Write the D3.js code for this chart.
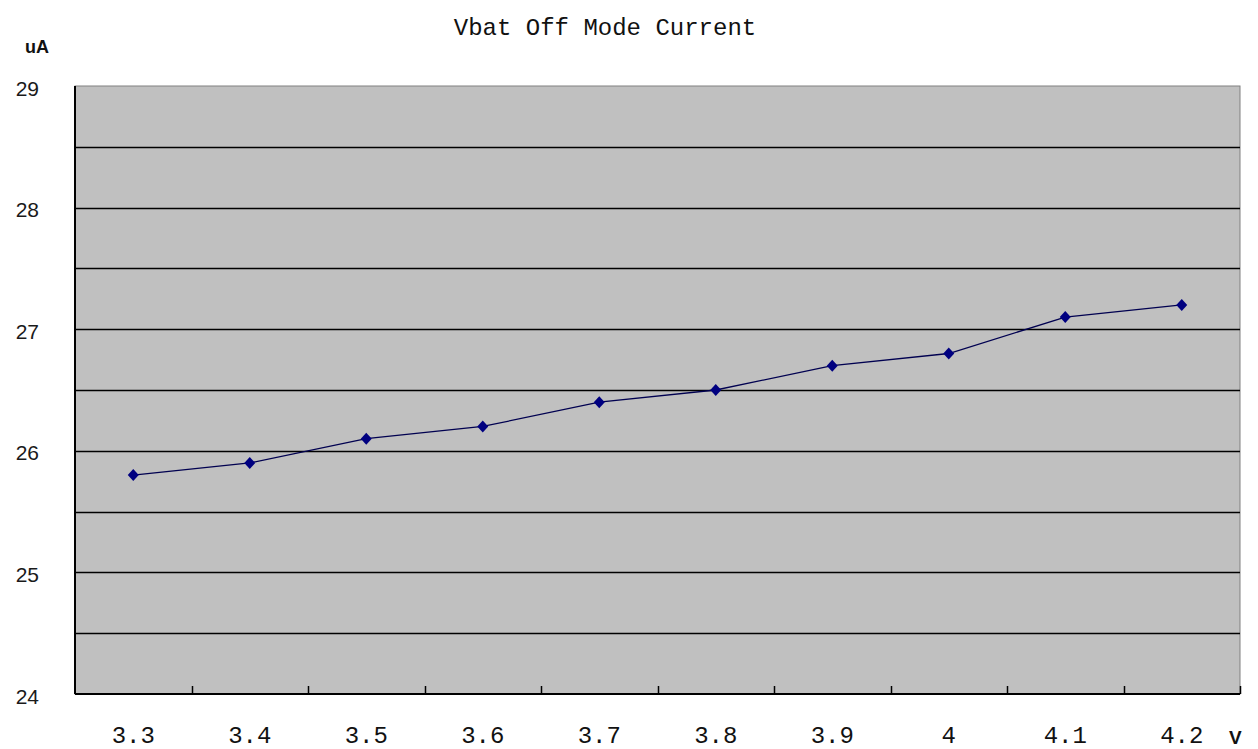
<!DOCTYPE html>
<html><head><meta charset="utf-8">
<script src="https://cdn.jsdelivr.net/npm/d3@7"></script>
<style>body{margin:0;background:#fff}svg{display:block}</style>
</head><body>
<svg id="c" width="1258" height="749"></svg>
<script>
const categories = ["3.3","3.4","3.5","3.6","3.7","3.8","3.9","4","4.1","4.2"];
const values = [25.8,25.9,26.1,26.2,26.4,26.5,26.7,26.8,27.1,27.2];
const yTicks = [24,25,26,27,28,29];
const yGrid = [24.5,25,25.5,26,26.5,27,27.5,28,28.5];
const title = "Vbat Off Mode Current";

const svg = d3.select("#c");
const L = 75, R = 1240, T = 86, B = 694;
const x = d3.scaleBand().domain(categories).range([L, R]).padding(0);
const y = d3.scaleLinear().domain([24, 29]).range([B, T]);

svg.append("rect").attr("x", L).attr("y", T).attr("width", R - L).attr("height", B - T)
  .attr("fill", "#c0c0c0").attr("stroke", "#808080").attr("stroke-width", 1);

svg.append("g").selectAll("line").data(yGrid).join("line")
  .attr("x1", L).attr("x2", R).attr("y1", d => Math.round(y(d)) + 0.5).attr("y2", d => Math.round(y(d)) + 0.5)
  .attr("stroke", "#000").attr("stroke-width", 1.6);

// axes lines
svg.append("line").attr("x1", L).attr("x2", L).attr("y1", T).attr("y2", B).attr("stroke", "#000").attr("stroke-width", 2);
svg.append("line").attr("x1", L).attr("x2", R).attr("y1", B).attr("y2", B).attr("stroke", "#000").attr("stroke-width", 2);

// x ticks between categories (inside)
const tickPos = categories.slice(1).map(c => x(c)).concat([R]);
svg.append("g").selectAll("line").data(tickPos).join("line")
  .attr("x1", d => Math.round(d) + 0.5).attr("x2", d => Math.round(d) + 0.5)
  .attr("y1", B - 8).attr("y2", B).attr("stroke", "#000").attr("stroke-width", 1.5);

// y labels
svg.append("g").selectAll("text").data(yTicks).join("text")
  .attr("x", 39).attr("y", d => y(d) + 2).attr("dy", "0.36em").attr("text-anchor", "end")
  .attr("font-family", "Liberation Sans, Arial, sans-serif").attr("font-size", 21).attr("fill", "#1a1a1a")
  .text(d => d);

// x labels
svg.append("g").selectAll("text").data(categories).join("text")
  .attr("x", d => x(d) + x.bandwidth() / 2).attr("y", 743).attr("text-anchor", "middle")
  .attr("font-family", "Liberation Mono, DejaVu Sans Mono, monospace").attr("font-size", 24).attr("fill", "#111")
  .text(d => d);

// line
const line = d3.line().x((d, i) => x(categories[i]) + x.bandwidth() / 2).y(d => y(d));
svg.append("path").datum(values).attr("d", line).attr("fill", "none").attr("stroke", "#000050").attr("stroke-width", 1.3);

svg.append("g").selectAll("path").data(values).join("path")
  .attr("transform", (d, i) => `translate(${x(categories[i]) + x.bandwidth() / 2},${y(d)})`)
  .attr("d", "M0,-6L5.5,0L0,6L-5.5,0Z").attr("fill", "#000080");

// title and unit labels
svg.append("text").attr("x", 605).attr("y", 35).attr("text-anchor", "middle")
  .attr("font-family", "Liberation Mono, DejaVu Sans Mono, monospace").attr("font-size", 24).attr("fill", "#111")
  .text(title);
svg.append("text").attr("x", 25).attr("y", 53)
  .attr("font-family", "Liberation Sans, Arial, sans-serif").attr("font-weight", "bold").attr("font-size", 18).attr("fill", "#111")
  .text("uA");
svg.append("text").attr("x", 1229).attr("y", 744)
  .attr("font-family", "Liberation Sans, Arial, sans-serif").attr("font-weight", "bold").attr("font-size", 19).attr("fill", "#111")
  .text("V");
</script>
</body></html>
